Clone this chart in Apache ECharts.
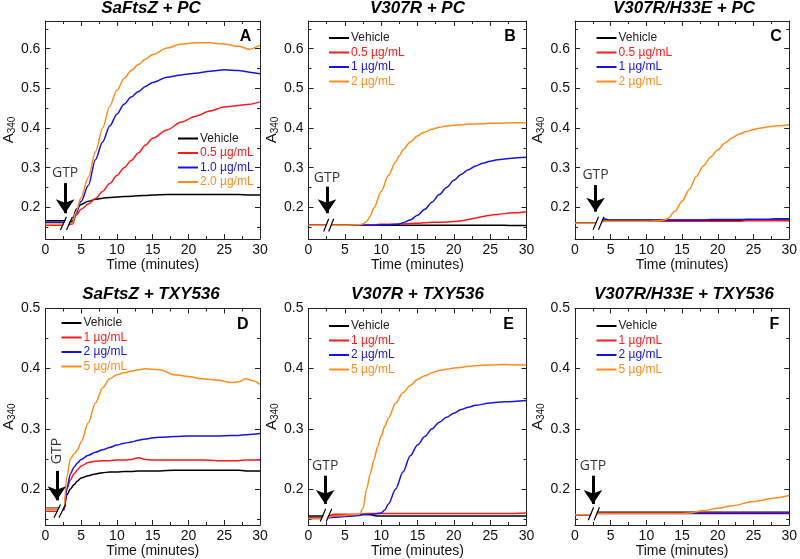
<!DOCTYPE html>
<html><head><meta charset="utf-8">
<script src="https://cdn.jsdelivr.net/npm/echarts@6/dist/echarts.min.js"></script>
<style>html,body{margin:0;padding:0;background:#fff}#c{width:800px;height:559px}</style>
</head><body><div id="c"></div>
<script>
// ---------- data ----------
const panelTitles = ['SaFtsZ + PC', 'V307R + PC', 'V307R/H33E + PC', 'SaFtsZ + TXY536', 'V307R + TXY536', 'V307R/H33E + TXY536'];
const panelLetters = ['A', 'B', 'C', 'D', 'E', 'F'];
const legendA = ['Vehicle', '0.5 µg/mL', '1.0 µg/mL', '2.0 µg/mL'];
const legendBC = ['Vehicle', '0.5 µg/mL', '1 µg/mL', '2 µg/mL'];
const legendDEF = ['Vehicle', '1 µg/mL', '2 µg/mL', '5 µg/mL'];
const xTicks = [0, 5, 10, 15, 20, 25, 30];
const yMajorTop = [0.2, 0.3, 0.4, 0.5, 0.6];
const yMinorTop = [0.15, 0.25, 0.35, 0.45, 0.55, 0.65];
const yMajorBottom = [0.2, 0.3, 0.4, 0.5];
const yMinorBottom = [0.15, 0.25, 0.35, 0.45];

const timeA = [0, 1.5, 3, 3.8, 4.3, 5, 6, 7, 8, 9, 10, 11, 12, 13, 14, 15, 17, 19, 21, 23, 25, 27, 28.5, 30];
const vehA = [0.166,0.166,0.166,0.165,0.195,0.207,0.215,0.220,0.223,0.225,0.226,0.227,0.228,0.229,0.230,0.231,0.232,0.232,0.232,0.232,0.232,0.232,0.231,0.231];
const redA = [0.155,0.155,0.155,0.158,0.180,0.195,0.208,0.222,0.240,0.260,0.280,0.300,0.318,0.337,0.357,0.374,0.395,0.415,0.430,0.443,0.453,0.457,0.460,0.466];
const blueA = [0.162,0.162,0.162,0.160,0.185,0.215,0.255,0.320,0.365,0.405,0.435,0.460,0.478,0.492,0.505,0.515,0.528,0.534,0.538,0.543,0.547,0.545,0.541,0.537];
const orangeA = [0.158,0.158,0.158,0.160,0.190,0.225,0.275,0.340,0.400,0.455,0.495,0.525,0.545,0.560,0.574,0.585,0.602,0.612,0.615,0.615,0.612,0.606,0.599,0.609];

const timeB = [0, 2, 3.5, 5, 7, 7.5, 8, 8.5, 9, 10, 11, 12, 12.5, 13, 14, 15, 16, 17, 18, 19, 20, 21, 22, 23, 24, 25, 26, 28, 30];
const vehB = [0.155,0.155,0.155,0.155,0.155,0.155,0.155,0.155,0.155,0.155,0.155,0.155,0.155,0.155,0.155,0.155,0.155,0.155,0.155,0.155,0.155,0.155,0.155,0.155,0.155,0.155,0.155,0.154,0.154];
const redB = [0.155,0.155,0.155,0.155,0.156,0.156,0.156,0.156,0.156,0.157,0.157,0.157,0.158,0.158,0.159,0.160,0.161,0.162,0.162,0.163,0.164,0.166,0.169,0.173,0.177,0.180,0.182,0.186,0.189];
const blueB = [0.155,0.155,0.155,0.155,0.155,0.155,0.155,0.155,0.155,0.156,0.156,0.157,0.158,0.161,0.168,0.180,0.195,0.213,0.232,0.250,0.268,0.283,0.295,0.304,0.311,0.316,0.320,0.324,0.326];
const orangeB = [0.155,0.155,0.155,0.155,0.156,0.158,0.164,0.178,0.198,0.240,0.280,0.315,0.330,0.345,0.365,0.380,0.390,0.397,0.402,0.405,0.407,0.408,0.410,0.410,0.411,0.412,0.412,0.413,0.413];

const timeC = [0, 2, 3.3, 4, 5, 8, 10, 12, 12.5, 13, 14, 15, 16, 17, 18, 19, 20, 21, 22, 23, 24, 25, 26, 27, 28, 30];
const vehC = [0.160,0.160,0.160,0.167,0.167,0.167,0.167,0.167,0.167,0.167,0.167,0.167,0.167,0.167,0.167,0.167,0.167,0.167,0.167,0.167,0.168,0.168,0.168,0.168,0.168,0.168];
const redC = [0.160,0.160,0.160,0.165,0.165,0.165,0.165,0.165,0.165,0.165,0.165,0.165,0.165,0.165,0.165,0.165,0.165,0.165,0.165,0.165,0.166,0.166,0.166,0.166,0.166,0.166];
const blueC = [0.160,0.160,0.160,0.171,0.168,0.168,0.168,0.168,0.168,0.168,0.168,0.168,0.168,0.168,0.168,0.169,0.169,0.169,0.169,0.169,0.170,0.170,0.170,0.170,0.171,0.171];
const orangeC = [0.160,0.160,0.160,0.165,0.165,0.165,0.165,0.166,0.168,0.172,0.190,0.215,0.245,0.278,0.305,0.327,0.345,0.362,0.375,0.385,0.391,0.396,0.400,0.403,0.405,0.408];

const timeD = [0, 1, 2, 2.6, 3, 3.5, 4, 4.5, 5, 6, 7, 8, 9, 10, 11, 12, 13, 14, 15, 16, 18, 20, 22, 24, 26, 27, 28, 29, 30];
const vehD = [0.168,0.168,0.168,0.166,0.190,0.200,0.207,0.213,0.218,0.222,0.225,0.227,0.228,0.228,0.229,0.229,0.230,0.230,0.230,0.230,0.231,0.231,0.231,0.231,0.231,0.231,0.230,0.230,0.230];
const redD = [0.163,0.163,0.163,0.165,0.200,0.215,0.225,0.232,0.238,0.244,0.246,0.247,0.247,0.248,0.248,0.249,0.252,0.249,0.248,0.248,0.248,0.248,0.248,0.247,0.247,0.247,0.248,0.248,0.248];
const blueD = [0.167,0.167,0.167,0.166,0.200,0.225,0.236,0.243,0.249,0.256,0.261,0.265,0.269,0.273,0.276,0.278,0.281,0.283,0.285,0.286,0.287,0.288,0.288,0.288,0.289,0.289,0.290,0.291,0.292];
const orangeD = [0.167,0.167,0.167,0.168,0.220,0.250,0.258,0.265,0.278,0.310,0.343,0.368,0.383,0.390,0.393,0.396,0.398,0.400,0.399,0.398,0.390,0.387,0.383,0.381,0.377,0.378,0.383,0.380,0.374];

const timeE = [0, 2, 3.5, 5, 6, 7, 7.5, 8, 8.5, 9, 9.5, 10, 10.5, 11, 12, 13, 14, 15, 16, 17, 18, 19, 20, 21, 22, 23, 25, 27, 30];
const vehE = [0.155,0.155,0.155,0.155,0.156,0.157,0.158,0.158,0.157,0.156,0.155,0.155,0.155,0.155,0.155,0.155,0.155,0.155,0.155,0.155,0.155,0.155,0.155,0.155,0.155,0.155,0.155,0.155,0.155];
const redE = [0.152,0.152,0.158,0.158,0.158,0.158,0.158,0.159,0.159,0.159,0.159,0.159,0.159,0.159,0.159,0.159,0.159,0.159,0.159,0.159,0.159,0.159,0.159,0.159,0.159,0.159,0.159,0.159,0.160];
const blueE = [0.151,0.151,0.153,0.154,0.155,0.156,0.157,0.157,0.158,0.158,0.159,0.160,0.165,0.175,0.200,0.228,0.255,0.273,0.287,0.300,0.311,0.319,0.326,0.332,0.336,0.339,0.343,0.345,0.347];
const orangeE = [0.151,0.151,0.155,0.156,0.157,0.158,0.168,0.200,0.225,0.248,0.270,0.288,0.304,0.318,0.343,0.360,0.372,0.382,0.388,0.393,0.397,0.399,0.401,0.402,0.404,0.405,0.406,0.407,0.406];

const timeF = [0, 2, 3, 5, 10, 15, 16, 18, 20, 22, 25, 28, 30];
const vehF = [0.157,0.157,0.161,0.161,0.161,0.161,0.161,0.161,0.161,0.161,0.161,0.161,0.161];
const redF = [0.157,0.157,0.160,0.160,0.160,0.160,0.160,0.160,0.160,0.160,0.160,0.160,0.160];
const blueF = [0.157,0.157,0.159,0.159,0.159,0.159,0.159,0.159,0.159,0.159,0.159,0.159,0.159];
const orangeF = [0.157,0.157,0.159,0.159,0.159,0.159,0.160,0.164,0.168,0.172,0.179,0.185,0.189];

// GTP annotation & axis-break marks (data coordinates)
const gtpX = [2.76, 2.54, 2.88, 1.6, 2.30, 2.52];
const gtpTextY = [0.286, 0.273, 0.281, 0.263, 0.238, 0.238];
const gtpArrowTop = [0.261, 0.252, 0.256, 0.230, 0.222, 0.222];
const gtpArrowTip = [0.185, 0.185, 0.189, 0.181, 0.175, 0.175];
const breakXLow = [2.11, 2.09, 2.52, 1.21, 1.61, 1.86];
const breakXHigh = [2.94, 2.78, 3.30, 2.11, 2.37, 2.61];
const breakGap = [0.85, 0.69, 0.76, 0.69, 0.83, 0.82];
const breakYLow = [0.143, 0.139, 0.143, 0.152, 0.1456, 0.148];
const breakYHigh = [0.176, 0.171, 0.176, 0.174, 0.167, 0.1695];

// ---------- layout / style ----------
const COLORS = ['#000000', '#ff1a1a', '#1414e6', '#ff8c1a'];
const TEXTCOLORS = ['#222222', '#ff1a1a', '#1414e6', '#ff8c1a'];
const FONT = '"Liberation Sans", Arial, sans-serif';
const gridLeft = [42, 308.5, 575];
const gridW = 218;
const gridTop = [21, 308.5];
const gridH = [218, 218.5];
const yRange = [[0.12, 0.67], [0.14, 0.5]];
const legendPos = [[173, 127.5], [324, 27], [591.5, 27], [56.5, 312], [324, 315], [591.5, 315]];
const letterPos = [[245.5, 37], [510, 37], [776, 37], [242.8, 325], [508.5, 325], [774.5, 325]];
const titleY = [8, 294.5];

const panels = [
  {time: timeA, vals: [vehA, redA, blueA, orangeA], names: legendA},
  {time: timeB, vals: [vehB, redB, blueB, orangeB], names: legendBC},
  {time: timeC, vals: [vehC, redC, blueC, orangeC], names: legendBC},
  {time: timeD, vals: [vehD, redD, blueD, orangeD], names: legendDEF},
  {time: timeE, vals: [vehE, redE, blueE, orangeE], names: legendDEF},
  {time: timeF, vals: [vehF, redF, blueF, orangeF], names: legendDEF}
];

const grids = [], xAxes = [], yAxes = [], series = [], legends = [], graphics = [];
const axColor = '#222';

panels.forEach((p, i) => {
  const row = Math.floor(i / 3), col = i % 3;
  grids.push({left: gridLeft[col], top: gridTop[row], width: gridW, height: gridH[row]});
  const xBase = {
    type: 'value', gridIndex: i, min: 0, max: 30, interval: 5,
    axisLine: {show: true, onZero: false, lineStyle: {color: axColor, width: 1}},
    axisTick: {show: true, inside: true, length: 5, lineStyle: {color: axColor}},
    minorTick: {show: true, splitNumber: 2, length: 3, lineStyle: {color: axColor}},
    splitLine: {show: false}, minorSplitLine: {show: false}
  };
  xAxes.push(Object.assign({}, xBase, {
    position: 'bottom',
    axisLabel: {show: true, fontSize: 14, color: '#111', margin: 4, fontFamily: FONT},
    name: 'Time (minutes)', nameLocation: 'middle', nameGap: 19,
    nameTextStyle: {fontSize: 14, color: '#111', fontFamily: FONT}
  }));
  xAxes.push(Object.assign({}, xBase, {position: 'top', axisLabel: {show: false}}));

  const [ymin, ymax] = yRange[row];
  const major = row === 0 ? yMajorTop : yMajorBottom;
  const minor = row === 0 ? yMinorTop : yMinorBottom;
  const yBase = {type: 'value', gridIndex: i, min: ymin, max: ymax, splitLine: {show: false}};
  yAxes.push(Object.assign({}, yBase, {
    position: 'left',
    axisLine: {show: true, onZero: false, lineStyle: {color: axColor, width: 1}},
    axisTick: {show: true, inside: true, length: 5, customValues: major, lineStyle: {color: axColor}},
    axisLabel: {show: true, customValues: major, formatter: v => v.toFixed(1), fontSize: 14, color: '#111', margin: 5, fontFamily: FONT},
    name: 'A{s|340}', nameLocation: 'middle', nameGap: 24, nameRotate: 90,
    nameTextStyle: {fontSize: 15, color: '#111', fontFamily: FONT, rich: {s: {fontSize: 10, fontFamily: FONT, color: '#111', padding: [7, 0, 0, 0]}}}
  }));
  yAxes.push(Object.assign({}, yBase, {
    position: 'left',
    axisLine: {show: false, onZero: false},
    axisTick: {show: true, inside: true, length: 3, customValues: minor, lineStyle: {color: axColor}},
    axisLabel: {show: false}
  }));
  yAxes.push(Object.assign({}, yBase, {
    position: 'right',
    axisLine: {show: true, onZero: false, lineStyle: {color: axColor, width: 1}},
    axisTick: {show: true, inside: true, length: 5, customValues: major, lineStyle: {color: axColor}},
    axisLabel: {show: false}
  }));
  yAxes.push(Object.assign({}, yBase, {
    position: 'right',
    axisLine: {show: false, onZero: false},
    axisTick: {show: true, inside: true, length: 3, customValues: minor, lineStyle: {color: axColor}},
    axisLabel: {show: false}
  }));

  const xi = 2 * i, yi = 4 * i;
  const L = panelLetters[i];
  p.vals.forEach((arr, k) => {
    series.push({
      type: 'line', name: L + '|' + p.names[k], xAxisIndex: xi, yAxisIndex: yi,
      data: p.time.map((t, j) => [t, arr[j]]),
      symbol: 'none', showSymbol: false, smooth: 0.3, smoothMonotone: 'x',
      color: COLORS[k], lineStyle: {color: COLORS[k], width: 1.5}, z: 2
    });
  });
  // break mark: white gap + two slashes
  const bx0 = breakXLow[i], bx1 = breakXHigh[i], g = breakGap[i];
  const by0 = breakYLow[i], by1 = breakYHigh[i];
  series.push({type: 'line', xAxisIndex: xi, yAxisIndex: yi, symbol: 'none', silent: true, z: 4,
    data: [[bx0 + g / 2, by0], [bx1 + g / 2, by1]], lineStyle: {color: '#fff', width: 4}});
  [0, g].forEach(off => {
    series.push({type: 'line', xAxisIndex: xi, yAxisIndex: yi, symbol: 'none', silent: true, z: 5,
      data: [[bx0 + off, by0], [bx1 + off, by1]], lineStyle: {color: '#000', width: 1.2}});
  });
  // GTP label + arrow
  series.push({
    type: 'scatter', xAxisIndex: xi, yAxisIndex: yi, silent: true, z: 6,
    data: [[gtpX[i], gtpTextY[i]]], symbolSize: 1, itemStyle: {color: 'rgba(0,0,0,0)'},
    label: {show: true, position: 'inside', formatter: 'GTP', fontSize: 14, color: '#000',
      fontFamily: '"Open Sans", sans-serif', rotate: i === 3 ? 90 : 0},
    markLine: {
      silent: true, symbol: ['none', 'arrow'], symbolSize: 14, animation: false,
      lineStyle: {color: '#000', width: 3, type: 'solid'}, label: {show: false},
      emphasis: {disabled: true},
      data: [[{coord: [gtpX[i], gtpArrowTop[i]]}, {coord: [gtpX[i], gtpArrowTip[i]]}]]
    }
  });

  legends.push({
    orient: 'vertical', left: legendPos[i][0], top: legendPos[i][1],
    itemWidth: 20, itemHeight: 2, itemGap: 2.5, icon: 'rect', selectedMode: false,
    data: p.names.map((n, k) => ({name: L + '|' + n, textStyle: {color: TEXTCOLORS[k]}})),
    formatter: name => name.split('|')[1],
    textStyle: {fontSize: 12, fontFamily: FONT, padding: [0, 0, 0, -3]}
  });

  graphics.push({
    type: 'text', x: gridLeft[col] + gridW / 2, y: titleY[row],
    style: {text: panelTitles[i], fontSize: 17, fontWeight: 'bold', fontStyle: 'italic', fontFamily: FONT,
      fill: '#000', align: 'center', verticalAlign: 'middle', textAlign: 'center', textVerticalAlign: 'middle'}
  });
  graphics.push({
    type: 'text', x: letterPos[i][0], y: letterPos[i][1],
    style: {text: L, fontSize: 16, fontWeight: 'bold', fontFamily: FONT,
      fill: '#000', align: 'center', verticalAlign: 'middle', textAlign: 'center', textVerticalAlign: 'middle'}
  });
});

const chart = echarts.init(document.getElementById('c'), null, {renderer: 'canvas'});
chart.setOption({
  animation: false,
  backgroundColor: '#fff',
  grid: grids, xAxis: xAxes, yAxis: yAxes, series: series, legend: legends, graphic: graphics
});
</script></body></html>
